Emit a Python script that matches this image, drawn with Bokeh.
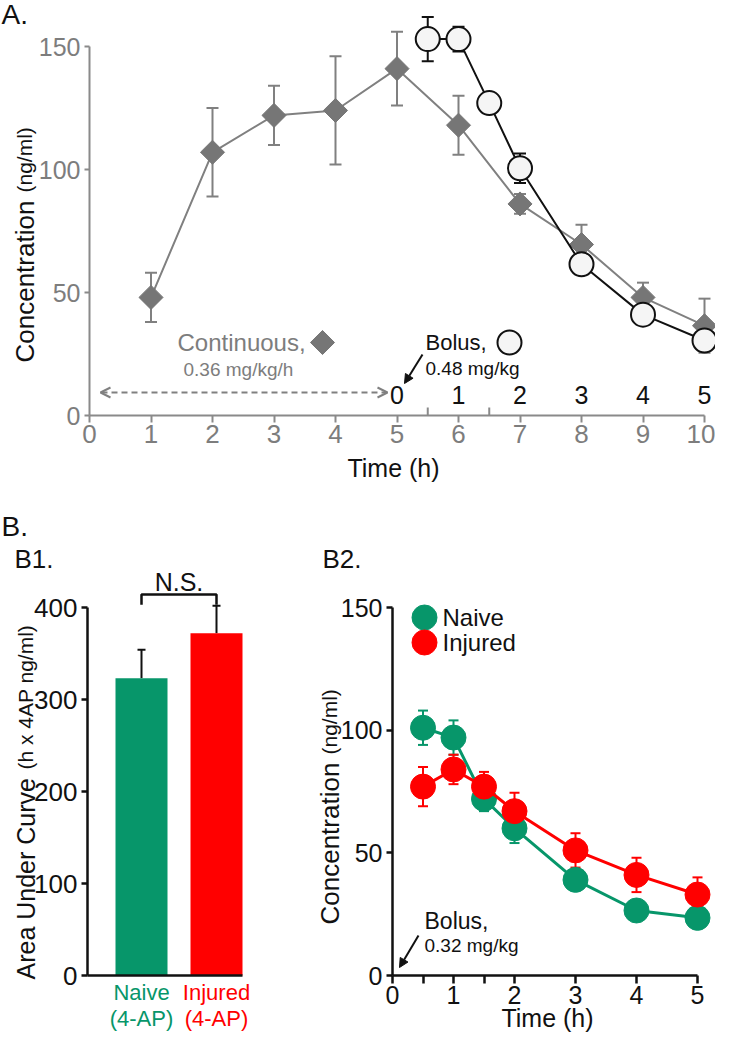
import numpy as np
from bokeh.plotting import figure
from bokeh.models import (ColumnDataSource, Range1d, FixedTicker, Whisker, TeeHead,
                          Label, Arrow, NormalHead, OpenHead)
from bokeh.layouts import column, row
from bokeh.core.properties import value
from bokeh.embed import file_html
from bokeh.resources import INLINE

# ------------------------------------------------------------------ data
# Panel A: continuous infusion (hours since start)
cont_time = [1, 2, 3, 4, 5, 6, 7, 8, 9, 10]
cont_mean = [48, 107, 122, 124, 141, 118, 86, 69.5, 48, 36.5]
cont_sem = [10, 18, 12, 22, 15, 12, 4, 8, 6, 11]
# Panel A: bolus (hours since bolus, bolus given at hour 5)
bolus_start = 5
bolus_time = [0.5, 1, 1.5, 2, 3, 4, 5]
bolus_mean = [153, 153, 127, 100.5, 61.5, 41, 30.5]
bolus_sem = [9, 5, 2, 6, 3, 3, 3]
bolus_axis_labels = [0, 1, 2, 3, 4, 5]
bolus_minor_ticks = [0.5, 1.5]
a_xticks = [0, 1, 2, 3, 4, 5, 6, 7, 8, 9, 10]
a_yticks = [0, 50, 100, 150]

# Panel B1: area under curve
groups = ["Naive", "Injured"]
group_pos = [1, 2]
auc_mean = [323, 372]
auc_sem = [31, 30]
b1_yticks = [0, 100, 200, 300, 400]

# Panel B2: bolus 0.32 mg/kg
b2_time = [0.5, 1, 1.5, 2, 3, 4, 5]
naive_mean = [101, 97, 72, 60, 39, 26.5, 23.5]
naive_sem = [7, 7, 5, 6, 3, 3, 3]
injured_mean = [77, 84, 77, 67, 51, 41, 33]
injured_sem = [8, 6, 6, 7.5, 7, 7, 7]
b2_xticks = [0, 0.5, 1, 1.5, 2, 3, 4, 5]
b2_yticks = [0, 50, 100, 150]

# ------------------------------------------------------------------ style
FONT = "Liberation Sans"
GREEN = "#07966a"
RED = "#ff0000"
GRAY_AX = "#8a8a8a"
GRAY_TXT = "#7d7d7d"
GRAY_LINE = "#808080"
GRAY_MARK = "#767676"
BLACK = "#111111"

# reference-pixel -> data helpers (frame geometry)
def pa(px, py):
    return (px - 97) / 61.5, (423 - py) / 2.46

def pb1(px, py):
    return 1 + (px - 149) / 75.0, (983 - py) / 0.92

def pb2(px, py):
    return (px - 400) / 61.0, (983 - py) / 2.453


def make_fig(conv, x0, x1, y0, y1):
    """Figure whose plotting frame covers the whole canvas (ref px x0..x1, y0..y1)."""
    xa, ya_top = conv(x0, y0)
    xb, ya_bot = conv(x1, y1)
    p = figure(width=int(x1 - x0), height=int(y1 - y0),
               x_range=Range1d(xa, xb), y_range=Range1d(ya_bot, ya_top),
               output_backend="svg", toolbar_location=None, title=None,
               min_border_left=0, min_border_right=0,
               min_border_top=0, min_border_bottom=0)
    p.grid.visible = False
    p.outline_line_color = None
    p.background_fill_color = "white"
    p.border_fill_color = "white"
    return p


def style_axis(ax, color, lw, label_color, size, ticks, bounds, loc, tick_out=6, standoff=4):
    ax.fixed_location = loc
    ax.ticker = FixedTicker(ticks=ticks)
    ax.bounds = bounds
    ax.axis_line_color = color
    ax.axis_line_width = lw
    ax.major_tick_line_color = color
    ax.major_tick_line_width = lw
    ax.major_tick_out = tick_out
    ax.major_tick_in = 0
    ax.minor_tick_line_color = None
    ax.major_label_text_color = label_color
    ax.major_label_text_font = FONT
    ax.major_label_text_font_size = size
    ax.major_label_standoff = standoff


def add_label(p, xy, text, size, color=BLACK, align="left", baseline="middle", angle=0.0):
    p.add_layout(Label(x=xy[0], y=xy[1], text=text, text_font=FONT,
                       text_font_size=size, text_color=color, text_align=align,
                       text_baseline=baseline, angle=angle))


def add_err(p, x, mean, sem, color, size, both=True):
    src = ColumnDataSource(dict(x=x, up=[m + s for m, s in zip(mean, sem)],
                                lo=[m - s if both else m for m, s in zip(mean, sem)]))
    w = Whisker(source=src, base="x", upper="up", lower="lo", line_color=color,
                line_width=2, level="underlay",
                upper_head=TeeHead(size=size, line_color=color, line_width=2),
                lower_head=TeeHead(size=size, line_color=color, line_width=2) if both else None)
    p.add_layout(w)

# ------------------------------------------------------------------ panel A
pA = make_fig(pa, 8, 723, 8, 500)
style_axis(pA.xaxis[0], GRAY_AX, 2, GRAY_TXT, "26px", a_xticks, (0, 10), 0, tick_out=7, standoff=2)
style_axis(pA.yaxis[0], GRAY_AX, 2, GRAY_TXT, "25px", a_yticks, (0, 150), 0, tick_out=5, standoff=4)

bolus_x = [bolus_start + t for t in bolus_time]
add_err(pA, cont_time, cont_mean, cont_sem, GRAY_LINE, 12)
add_err(pA, bolus_x, bolus_mean, bolus_sem, BLACK, 12)
pA.line(cont_time, cont_mean, line_color=GRAY_LINE, line_width=2)
pA.scatter(cont_time, cont_mean, marker="square", angle=np.pi / 4, size=17,
           fill_color=GRAY_MARK, line_color=GRAY_MARK)
pA.line(bolus_x, bolus_mean, line_color=BLACK, line_width=2)
pA.scatter(bolus_x, bolus_mean, marker="circle", size=24, fill_color="#f5f5f5",
           line_color=BLACK, line_width=2)

# bolus time axis (labels inside the frame, minor ticks pointing up)
bx = [bolus_start + t for t in bolus_axis_labels]
pA.text(x=bx, y=[pa(0, 402)[1]] * len(bx), text=[str(t) for t in bolus_axis_labels],
        text_font=value(FONT), text_font_size="25px", text_color=BLACK,
        text_align="center", text_baseline="middle")
mt = [bolus_start + t for t in bolus_minor_ticks]
pA.segment(x0=mt, y0=[0] * len(mt), x1=mt, y1=[8 / 2.46] * len(mt), line_color=GRAY_AX, line_width=2)

# dashed double arrow for continuous infusion period
a0 = pa(108, 400)
a1 = pa(395, 400)
pA.add_layout(Arrow(x_start=a1[0], y_start=a1[1], x_end=a0[0], y_end=a0[1],
                    line_color=GRAY_LINE, line_width=2, line_dash="6 4",
                    start=OpenHead(size=10, line_color=GRAY_LINE, line_width=2),
                    end=OpenHead(size=10, line_color=GRAY_LINE, line_width=2)))
# bolus arrow
b0 = pa(430, 362)
b1_ = pa(412, 391)
pA.add_layout(Arrow(x_start=b0[0], y_start=b0[1], x_end=b1_[0], y_end=b1_[1],
                    line_color=BLACK, line_width=2,
                    end=NormalHead(size=9, fill_color=BLACK, line_color=BLACK)))

# key markers
kd = pa(330, 350)
pA.scatter([kd[0]], [kd[1]], marker="square", angle=np.pi / 4, size=17,
           fill_color=GRAY_MARK, line_color=GRAY_MARK)
kc = pa(517, 350)
pA.scatter([kc[0]], [kc[1]], marker="circle", size=24, fill_color="#f5f5f5",
           line_color=BLACK, line_width=2)

add_label(pA, pa(9, 22), "A.", "28px")
add_label(pA, pa(32, 370), "Concentration", "26px", baseline="alphabetic", angle=np.pi / 2)
add_label(pA, pa(32, 200), "(ng/ml)", "21px", baseline="alphabetic", angle=np.pi / 2)
add_label(pA, pa(401, 475), "Time (h)", "25px", align="center")
add_label(pA, pa(185, 350), "Continuous,", "24px", color=GRAY_TXT)
add_label(pA, pa(191, 377), "0.36 mg/kg/h", "19px", color=GRAY_TXT)
add_label(pA, pa(433, 350), "Bolus,", "22px")
add_label(pA, pa(433, 376), "0.48 mg/kg", "19px")

# ------------------------------------------------------------------ panel B1
bar_w = 52 / 75.0
x_axis0 = pb1(95, 0)[0]
pB1 = make_fig(pb1, 8, 260, 500, 1042)
style_axis(pB1.yaxis[0], BLACK, 2.5, BLACK, "26px", b1_yticks, (0, 400), x_axis0, tick_out=6, standoff=4)
style_axis(pB1.xaxis[0], BLACK, 2.5, BLACK, "1px", [], (x_axis0, group_pos[-1] + bar_w / 2), 0)
pB1.xaxis[0].major_label_text_color = None

add_err(pB1, group_pos, auc_mean, auc_sem, BLACK, 8, both=False)
pB1.vbar(x=group_pos, top=auc_mean, width=bar_w, fill_color=[GREEN, RED], line_color=None)

# N.S. bracket
top_err = max(m + s for m, s in zip(auc_mean, auc_sem))
br_lo = top_err + 1
br_hi = top_err + 12
pB1.line([group_pos[0], group_pos[0], group_pos[1], group_pos[1]],
         [br_lo, br_hi, br_hi, br_lo], line_color=BLACK, line_width=2.5)
add_label(pB1, ((group_pos[0] + group_pos[1]) / 2, pb1(0, 589)[1]), "N.S.", "25px", align="center")

add_label(pB1, pb1(9, 534), "B.", "28px")
add_label(pB1, pb1(22, 566), "B1.", "26px")
add_label(pB1, pb1(33, 987), "Area Under Curve", "25px", baseline="alphabetic", angle=np.pi / 2)
add_label(pB1, pb1(33, 777), "(h x 4AP ng/ml)", "21px", baseline="alphabetic", angle=np.pi / 2)
for gx, g, c in zip(group_pos, groups, [GREEN, RED]):
    add_label(pB1, (gx, pb1(0, 1000)[1]), g, "22px", color=c, align="center")
    add_label(pB1, (gx, pb1(0, 1026)[1]), "(4-AP)", "22px", color=c, align="center")

# ------------------------------------------------------------------ panel B2
pB2 = make_fig(pb2, 260, 723, 500, 1042)
style_axis(pB2.xaxis[0], BLACK, 2.5, BLACK, "25px", b2_xticks, (0, 5), 0, tick_out=8, standoff=2)
pB2.xaxis[0].major_label_overrides = {0.5: "", 1.5: ""}
style_axis(pB2.yaxis[0], BLACK, 2.5, BLACK, "25px", b2_yticks, (0, 150), 0, tick_out=6, standoff=4)

add_err(pB2, b2_time, naive_mean, naive_sem, GREEN, 10)
add_err(pB2, b2_time, injured_mean, injured_sem, RED, 10)
pB2.line(b2_time, naive_mean, line_color=GREEN, line_width=3)
pB2.scatter(b2_time, naive_mean, marker="circle", size=25, fill_color=GREEN, line_color=GREEN)
pB2.line(b2_time, injured_mean, line_color=RED, line_width=3)
pB2.scatter(b2_time, injured_mean, marker="circle", size=25, fill_color=RED, line_color=RED)

# legend
for (py, name, c) in [(625, "Naive", GREEN), (650, "Injured", RED)]:
    lx, ly = pb2(432, py)
    pB2.scatter([lx], [ly], marker="circle", size=25, fill_color=c, line_color=c)
    add_label(pB2, pb2(450, py), name, "24px")

add_label(pB2, pb2(330, 566), "B2.", "26px")
add_label(pB2, pb2(337, 932), "Concentration", "26px", baseline="alphabetic", angle=np.pi / 2)
add_label(pB2, pb2(337, 762), "(ng/ml)", "21px", baseline="alphabetic", angle=np.pi / 2)
add_label(pB2, pb2(555, 1025), "Time (h)", "25px", align="center")
add_label(pB2, pb2(432, 928), "Bolus,", "23px")
add_label(pB2, pb2(432, 953), "0.32 mg/kg", "19px")
c0 = pb2(426, 943)
c1 = pb2(407, 975)
pB2.add_layout(Arrow(x_start=c0[0], y_start=c0[1], x_end=c1[0], y_end=c1[1],
                     line_color=BLACK, line_width=2,
                     end=NormalHead(size=9, fill_color=BLACK, line_color=BLACK)))

layout = column(pA, row(pB1, pB2))
open("out.html", "w").write(file_html(layout, INLINE))
